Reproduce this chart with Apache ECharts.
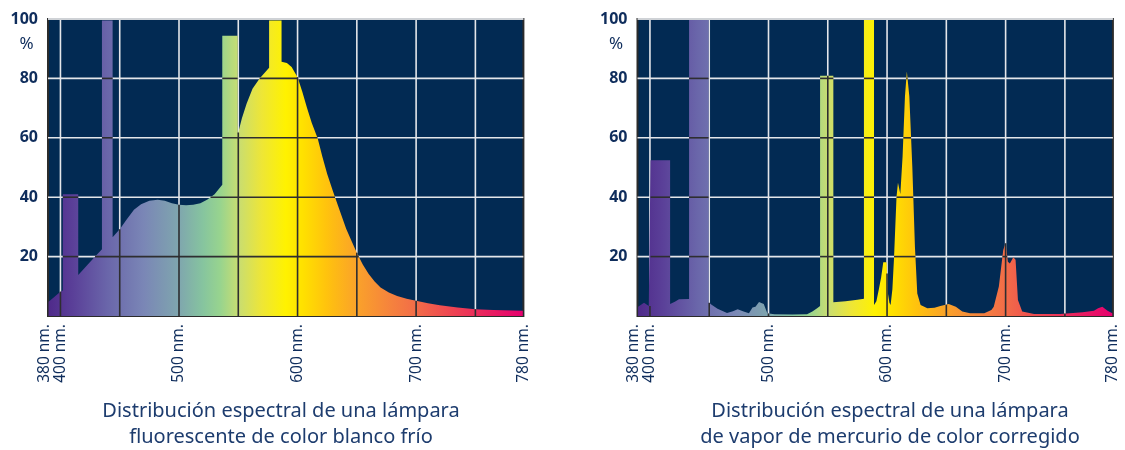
<!DOCTYPE html>
<html>
<head>
<meta charset="utf-8">
<script src="https://cdn.jsdelivr.net/npm/echarts@6/dist/echarts.min.js"></script>
<style>
  html, body { margin: 0; padding: 0; background: #ffffff; }
  #chart { width: 1125px; height: 450px; }
</style>
</head>
<body>
<div id="chart"></div>
<script>
// Wavelength grid (nm) and percentage grid
const wavelengthGrid = [400, 450, 500, 550, 600, 650, 700, 750];
const wavelengthLabels = [400, 500, 600, 700];
const rangeEndLabels = [380, 780];
const percentGrid = [20, 40, 60, 80];

// Cool-white fluorescent lamp: relative spectral power (%)
const coolWhiteNm = [390, 400, 402, 402, 415, 415, 425, 435, 435, 444, 444, 450, 456, 462, 468, 475, 482, 488, 494, 500,
  506, 512, 518, 524, 530, 536.5, 536.5, 549.5, 549.5, 553, 557, 562, 568, 576, 576, 586.5, 586.5, 591, 595, 600,
  604, 608, 612, 617, 621, 625, 630, 636, 641, 646, 650, 655, 660, 665, 670, 677, 684, 692, 700, 710,
  720, 735, 750, 765, 790];
const coolWhitePct = [4.8, 8.2, 8.6, 41, 41, 13.8, 18.2, 22.5, 99.5, 99.5, 26.5, 29.2, 32.6, 35.8, 37.6, 38.8, 39.1, 38.8, 38.0, 37.5,
  37.3, 37.5, 38.0, 39.2, 41.0, 44.2, 94.4, 94.4, 61, 66.5, 71.5, 76.5, 80, 83.6, 99.5, 99.5, 85.6, 85.2, 83.8, 80.4,
  75.5, 70, 65, 59.8, 53.5, 47.8, 41.8, 35, 29.4, 24.8, 21.3, 17.3, 14.1, 11.6, 9.6, 7.9, 6.7, 5.8, 5.1, 4.3,
  3.6, 2.9, 2.3, 2.0, 1.8];

// Colour-corrected mercury vapour lamp: relative spectral power (%)
const mercuryNm = [390, 395, 399, 400.5, 400.5, 417, 417, 421, 424.5, 433, 433, 449.5, 449.5, 452, 457, 465, 470, 474, 479, 483.5,
  486.5, 489, 492, 496, 499, 505, 520, 532.5, 537, 541, 543.5, 543.5, 554.7, 554.7, 565, 575, 580.5, 580.5, 589, 589,
  591, 593, 595, 596.8, 599.6, 600.7, 602, 603, 604.5, 605.8, 608, 609.2, 611.2, 613.1, 615.1, 616.7, 618.8, 621.3, 623.5, 625.5,
  628.3, 634, 640, 645, 652, 658, 663.5, 670, 682, 688, 690, 694.3, 698, 700, 701.9, 703.6, 706.5, 708.4, 710.4, 714,
  724, 746, 765, 774.5, 778, 781.6, 786, 790];
const mercuryPct = [3.1, 4.5, 3.4, 3.3, 52.4, 52.4, 4.0, 4.8, 5.6, 5.7, 100, 100, 4.6, 3.8, 2.4, 1.0, 1.6, 2.3, 1.5, 0.9,
  2.9, 3.1, 4.7, 4.0, 0.9, 0.6, 0.5, 0.6, 1.5, 2.6, 3.4, 80.9, 80.9, 4.6, 5.0, 5.5, 5.8, 100, 100, 3.7,
  5.0, 8.8, 13.0, 18.1, 18.1, 7.7, 4.5, 3.7, 9, 18.9, 40.2, 44.9, 41.1, 53.7, 73.9, 82.3, 73.9, 50.3, 23.4, 7.6,
  3.7, 2.6, 2.8, 3.4, 4.0, 3.1, 1.5, 0.9, 0.9, 2.0, 3.1, 9.9, 22.2, 24.5, 18.3, 17.7, 19.8, 18.9, 5.4, 1.5,
  0.7, 0.7, 1.3, 1.8, 2.6, 3.1, 1.8, 0.9];

// Visible-spectrum colour ramp used for the fills
const spectrumNm = [390, 410, 440, 470, 500, 520, 535, 550, 570, 590, 605, 625, 650, 680, 700, 730, 760, 790];
const spectrumColors = ['#4f2a8a', '#5a3f98', '#6a66aa', '#7a86b6', '#7fa6ae', '#86c49f', '#98d48e', '#c8dd72', '#eee636',
  '#fff200', '#ffe000', '#ffc20e', '#faa22a', '#f5813e', '#f26c48', '#ee4552', '#e9215f', '#e6006e'];

const X_MIN = 389.5, X_MAX = 790.5;
const NAVY = '#022a53';
const INK = '#0f2d5c';
const LIGHT_LINE = '#e4e6ea';
const DARK_LINE = '#2e2e30';

const panels = [
  { nm: coolWhiteNm, pct: coolWhitePct, left: 48, titleX: 281,
    title: 'Distribución espectral de una lámpara\nfluorescente de color blanco frío' },
  { nm: mercuryNm, pct: mercuryPct, left: 637.5, titleX: 890,
    title: 'Distribución espectral de una lámpara\nde vapor de mercurio de color corregido' }
];

// x-ranges where the spectrum is at or above level v
function runsAbove(xs, ys, v) {
  const runs = [];
  let start = ys[0] >= v ? xs[0] : null;
  for (let i = 1; i < xs.length; i++) {
    const was = ys[i - 1] >= v, now = ys[i] >= v;
    if (was !== now) {
      const x0 = xs[i - 1], x1 = xs[i], y0 = ys[i - 1], y1 = ys[i];
      const xc = (x1 === x0 || y1 === y0) ? x1 : x0 + (v - y0) * (x1 - x0) / (y1 - y0);
      if (now) start = xc; else { runs.push([start, xc]); start = null; }
    }
  }
  if (start !== null) runs.push([start, xs[xs.length - 1]]);
  return runs;
}

// spectrum height at wavelength w (taller side of a vertical step)
function heightAt(xs, ys, w) {
  let h = 0;
  for (let i = 1; i < xs.length; i++) {
    const x0 = xs[i - 1], x1 = xs[i];
    if (w >= x0 && w <= x1) {
      const y = x1 === x0 ? Math.max(ys[i - 1], ys[i]) : ys[i - 1] + (ys[i] - ys[i - 1]) * (w - x0) / (x1 - x0);
      h = Math.max(h, y);
    }
  }
  return h;
}

function spectrumGradient() {
  const span = spectrumNm[spectrumNm.length - 1] - spectrumNm[0];
  return new echarts.graphic.LinearGradient(0, 0, 1, 0,
    spectrumNm.map((w, k) => ({ offset: (w - spectrumNm[0]) / span, color: spectrumColors[k] })));
}

function segmentRenderer(color, width) {
  return function (params, api) {
    const p1 = api.coord([api.value(0), api.value(1)]);
    const p2 = api.coord([api.value(2), api.value(3)]);
    return { type: 'line', shape: { x1: p1[0], y1: p1[1], x2: p2[0], y2: p2[1] },
      style: { stroke: color, lineWidth: width } };
  };
}

const grids = [], xAxes = [], yAxes = [], series = [], graphics = [];
const labelFont = { color: INK, fontSize: 15.5, fontFamily: 'Noto Sans' };

panels.forEach((p, i) => {
  grids.push({ left: p.left, top: 19, width: 475.4, height: 297,
    show: true, backgroundColor: NAVY, borderColor: '#2b2b2b', borderWidth: 2 });

  xAxes.push({ type: 'value', gridIndex: i, min: X_MIN, max: X_MAX, position: 'bottom',
    axisLine: { show: false }, axisTick: { show: false }, splitLine: { show: false },
    axisLabel: Object.assign({ customValues: wavelengthLabels, rotate: 90, margin: 8,
      formatter: v => v + ' nm.' }, labelFont) });
  // end-of-range labels; the lower one sits a little left of the frame edge
  xAxes.push({ type: 'value', gridIndex: i, min: rangeEndLabels[0], max: rangeEndLabels[1], position: 'bottom',
    axisLine: { show: false }, axisTick: { show: false }, splitLine: { show: false },
    axisLabel: Object.assign({ customValues: rangeEndLabels, rotate: 90, margin: 8,
      showMinLabel: true, showMaxLabel: true,
      formatter: v => (v === rangeEndLabels[0] ? '{lo|' + v + ' nm.}' : v + ' nm.'),
      rich: { lo: Object.assign({ padding: [0, 0, 7, 0] }, labelFont) } }, labelFont) });

  yAxes.push({ type: 'value', gridIndex: i, min: 0, max: 100, interval: 20,
    axisLine: { show: false }, axisTick: { show: false }, splitLine: { show: false },
    axisLabel: { formatter: v => (v === 0 ? '' : String(v)), color: INK, fontSize: 16,
      fontWeight: 'bold', fontFamily: 'Noto Sans', margin: 10 } });

  // white grid under the spectrum
  const light = [];
  wavelengthGrid.forEach(w => light.push([w, 0, w, 100]));
  percentGrid.forEach(v => light.push([X_MIN, v, X_MAX, v]));
  series.push({ type: 'custom', xAxisIndex: 2 * i, yAxisIndex: i, z: 1, silent: true,
    renderItem: segmentRenderer(LIGHT_LINE, 1.6), data: light });

  // the spectrum itself
  series.push({ type: 'line', xAxisIndex: 2 * i, yAxisIndex: i, z: 2, silent: true,
    data: p.nm.map((w, k) => [w, p.pct[k]]), symbol: 'none', smooth: false,
    lineStyle: { width: 0 }, areaStyle: { color: spectrumGradient(), opacity: 1 } });

  // grid lines where they cross the coloured fill
  const dark = [];
  wavelengthGrid.forEach(w => {
    const h = heightAt(p.nm, p.pct, w);
    if (h > 0) dark.push([w, 0, w, h]);
  });
  percentGrid.forEach(v => runsAbove(p.nm, p.pct, v).forEach(r => dark.push([r[0], v, r[1], v])));
  series.push({ type: 'custom', xAxisIndex: 2 * i, yAxisIndex: i, z: 3, silent: true,
    renderItem: segmentRenderer(DARK_LINE, 1.6), data: dark });

  // light top edge of the frame
  series.push({ type: 'custom', xAxisIndex: 2 * i, yAxisIndex: i, z: 4, silent: true,
    renderItem: segmentRenderer('#cfd2d6', 2), data: [[X_MIN, 100, X_MAX, 100]] });

  graphics.push({ type: 'text', x: p.left - 21.5, y: 44,
    style: { text: '%', fill: INK, font: '17px "Noto Sans"', textAlign: 'center', textVerticalAlign: 'middle',
      align: 'center', verticalAlign: 'middle' } });
  graphics.push({ type: 'text', x: p.titleX, y: 398,
    style: { text: p.title, fill: '#1d3c6e', font: '20px "Noto Sans"', lineHeight: 26,
      textAlign: 'center', textVerticalAlign: 'top', align: 'center', verticalAlign: 'top' } });
});

const chart = echarts.init(document.getElementById('chart'), null, { renderer: 'canvas' });
chart.setOption({
  animation: false,
  backgroundColor: '#ffffff',
  grid: grids,
  xAxis: xAxes,
  yAxis: yAxes,
  series: series,
  graphic: graphics
});
</script>
</body>
</html>
